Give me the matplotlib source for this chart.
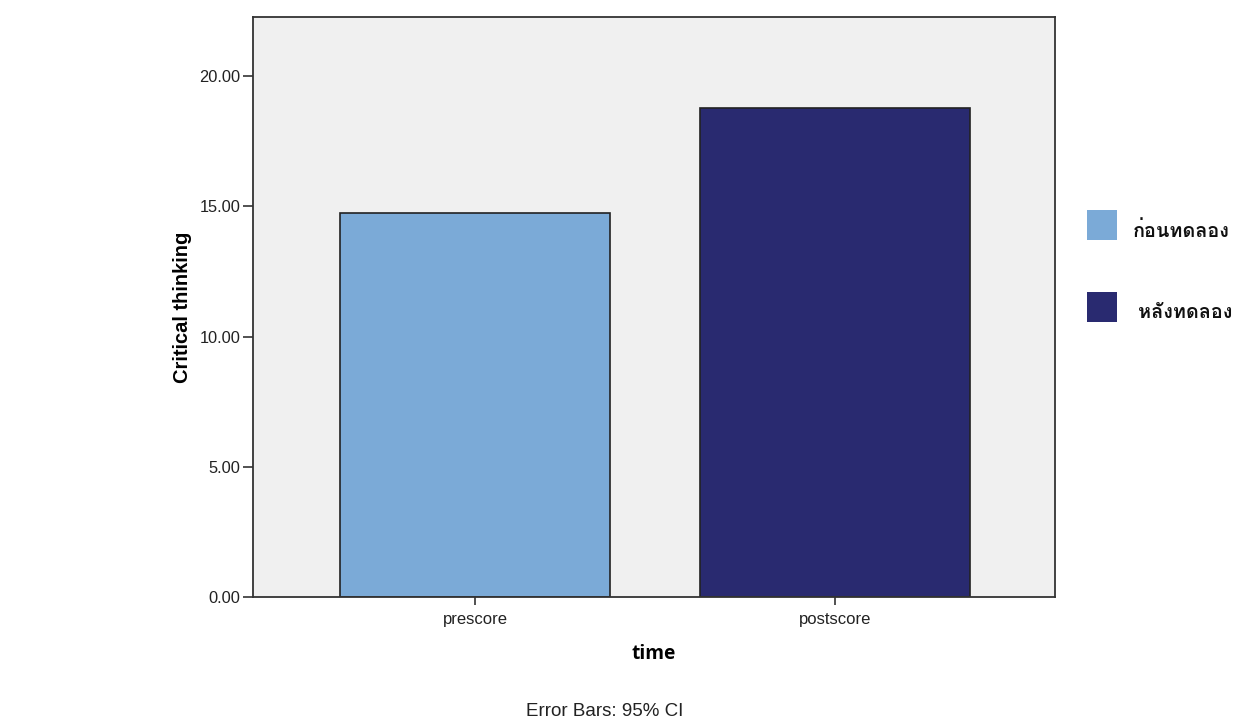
import matplotlib
matplotlib.use("Agg")
import matplotlib.pyplot as plt
from matplotlib import font_manager
from matplotlib.patches import Rectangle
from matplotlib.ft2font import FT2Font

categories = ["prescore", "postscore"]
values = [14.75, 18.77]
legend_labels = ["ก่อนทดลอง", "หลังทดลอง"]
colors = ["#7BAAD7", "#292A70"]
yticks = [0, 5, 10, 15, 20]

# find a font with Thai glyphs
thai_font = None
for f in font_manager.fontManager.ttflist:
    try:
        ft = FT2Font(f.fname)
        cm = ft.get_charmap()
        if 0x0E01 in cm and 0x0E2D in cm:
            thai_font = f.name
            if "Noto Sans Thai" in f.name or "Loma" in f.name or "Tahoma" in f.name:
                break
    except Exception:
        pass
thai_family = [thai_font, "DejaVu Sans"] if thai_font else ["DejaVu Sans"]

plt.rcParams["font.family"] = ["Liberation Sans", "DejaVu Sans"]

fig = plt.figure(figsize=(12.36, 7.2), dpi=100)
ax = fig.add_axes([253/1236, 1-597/720, (1055-253)/1236, (597-17)/720])
ax.set_facecolor("#F0F0F0")

x = list(range(len(categories)))
ax.bar(x, values, width=0.75, color=colors, edgecolor="#222222", linewidth=1.2, zorder=2)

ax.set_xlim(-0.6167, 1.611)
ax.set_ylim(0, 22.27)
ax.set_yticks(yticks)
ax.set_yticklabels([f"{v:.2f}" for v in yticks], fontsize=11.8, color="#222222")
ax.set_xticks(x)
ax.set_xticklabels(categories, fontsize=12, color="#222222")
ax.tick_params(axis="y", length=7, width=1.2, color="#333333", pad=2)
ax.tick_params(axis="x", length=6, width=1.2, color="#333333", pad=5)
for s in ax.spines.values():
    s.set_linewidth(1.3)
    s.set_color("#333333")

ax.set_ylabel("Critical thinking", fontsize=14.5, fontweight="bold", labelpad=5)
ax.set_xlabel("time", fontsize=13.8, fontweight="bold", labelpad=12,
              family=["Open Sans", "DejaVu Sans"])

fig.text(605/1236, 1-711/720, "Error Bars: 95% CI", ha="center", va="center",
         fontsize=13.5, color="#222222")

# legend
leg_y = [225, 307]
for i, (lab, c) in enumerate(zip(legend_labels, colors)):
    yc = 1 - leg_y[i]/720
    fig.patches.append(Rectangle((1087/1236, yc - 15/720), 30/1236, 30/720,
                                 transform=fig.transFigure, facecolor=c,
                                 edgecolor="none", figure=fig))
    fig.text((1133 + 5*i)/1236, yc - 6/720, lab, ha="left", va="center",
             fontsize=14.3, fontweight="bold", family=thai_family, color="#111111")

fig.savefig("out.png", dpi=100)
